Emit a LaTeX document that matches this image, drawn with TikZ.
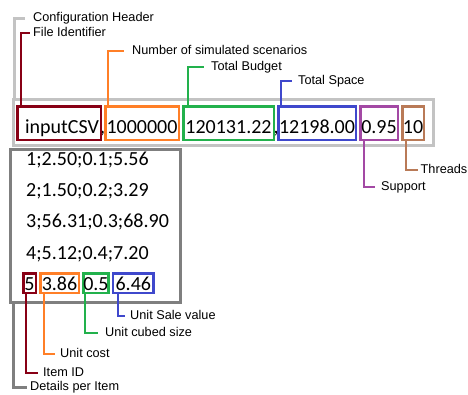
\documentclass[tikz,border=0pt]{standalone}
\usepackage{fontspec}
\setmainfont{Liberation Sans}
\newfontfamily\datafont{Carlito}
\usetikzlibrary{positioning}

\definecolor{idred}{RGB}{136,0,21}
\definecolor{simorange}{RGB}{255,127,39}
\definecolor{budgreen}{RGB}{34,177,76}
\definecolor{spcblue}{RGB}{63,72,204}
\definecolor{suppurple}{RGB}{163,73,164}
\definecolor{thrbrown}{RGB}{185,122,87}
\definecolor{hdrgray}{RGB}{195,195,195}
\definecolor{itemgray}{RGB}{127,127,127}

\tikzset{
    field/.style={draw, line width=2.5pt, inner sep=0pt, minimum height=33.5pt,
        text height=20pt, text depth=0pt, font=\datafont\fontsize{20}{24}\selectfont},
    itemfield/.style={field, minimum height=19.5pt, text height=14pt},
    datarow/.style={inner sep=0pt, anchor=base west, font=\datafont\fontsize{20}{24}\selectfont},
    lbl/.style={inner sep=0pt, anchor=west, text height=.72em, text depth=0pt,
        font=\fontsize{12.7}{15}\selectfont},
    callout/.style={line width=2.5pt},
}

\begin{document}
\begin{tikzpicture}[x=1pt, y=1pt, node distance=2pt]
    \useasboundingbox (0,0) rectangle (468,-394);

    % Define boxes
    \node[draw=hdrgray, line width=3pt, minimum width=420pt, minimum height=46pt] (hdr) at (223.5,-122.5) {};
    \node[draw=itemgray, line width=3pt, minimum width=170pt, minimum height=153pt] (items) at (95,-225.5) {};

    % header line
    \node[datarow] (comma1) at (100,-133) {,};
    \node[datarow] (comma2) at (273.5,-133) {,};
    \node[field, draw=idred, minimum width=83.5pt, text width=80pt, align=right] (fid) at (59,-123) {inputCSV};
    \node[field, draw=simorange, minimum width=73.5pt, right = of fid]	(nsim)	{1000000};
    \node[field, draw=budgreen, minimum width=90.5pt, right = of nsim]	(bud)	{120131.22};
    \node[field, draw=spcblue, minimum width=77.5pt, right = of bud]	(spc)	{12198.00};
    \node[field, draw=suppurple, minimum width=37.5pt, right = of spc]	(sup)	{0.95};
    \node[field, draw=thrbrown, minimum width=21.5pt, right = of sup]	(thr)	{10};

    % item lines
    \node[datarow] (r1) at (26,-165) {1;2.50;0.1;5.56};
    \node[datarow] (r2) at (26,-196) {2;1.50;0.2;3.29};
    \node[datarow] (r3) at (26,-227) {3;56.31;0.3;68.90};
    \node[datarow] (r4) at (26,-259) {4;5.12;0.4;7.20};
    \node[itemfield, draw=idred, minimum width=12.5pt]					(iid)	at (29.5,-283) {5};
    \node[itemfield, draw=simorange, minimum width=38.5pt, right = of iid]	(cost)	{3.86};
    \node[itemfield, draw=budgreen, minimum width=24.5pt, right = of cost]	(cube)	{0.5};
    \node[itemfield, draw=spcblue, minimum width=40.5pt, right = of cube]	(sale)	{6.46};

    % Define labels
    \node[lbl] (lhdr)	at (33,-18)		{Configuration Header};
    \node[lbl] (lfid)	at (33,-33)		{File Identifier};
    \node[lbl] (lnsim)	at (132,-51)	{Number of simulated scenarios};
    \node[lbl] (lbud)	at (211,-67)	{Total Budget};
    \node[lbl] (lspc)	at (298,-81)	{Total Space};
    \node[lbl] (lsup)	at (381,-187)	{Support};
    \node[lbl] (lthr)	at (420.5,-170)	{Threads};
    \node[lbl] (litems)	at (30,-387)	{Details per Item};
    \node[lbl] (liid)	at (43,-373)	{Item ID};
    \node[lbl] (lcost)	at (60,-354)	{Unit cost};
    \node[lbl] (lcube)	at (105,-333)	{Unit cubed size};
    \node[lbl] (lsale)	at (130,-316)	{Unit Sale value};

    % Connect boxes to labels
    \draw[callout, hdrgray, line width=3pt] ([xshift=2pt]hdr.north west) |- ([xshift=-8pt]lhdr.west);
    \draw[callout, idred]		([xshift=5pt]fid.north west)	|- ([xshift=-3pt]lfid.west);
    \draw[callout, simorange]	([xshift=4pt]nsim.north west)	|- ([xshift=-8pt]lnsim.west);
    \draw[callout, budgreen]	([xshift=6pt]bud.north west)	|- ([xshift=-7pt]lbud.west);
    \draw[callout, spcblue]		([xshift=4pt]spc.north west)	|- ([xshift=-6pt]lspc.west);
    \draw[callout, suppurple]	([xshift=5pt]sup.south west)	|- ([xshift=-6pt]lsup.west);
    \draw[callout, thrbrown]	([xshift=5pt]thr.south west)	|- ([xshift=-3pt]lthr.west);
    \draw[callout, itemgray, line width=3pt] ([xshift=4.5pt]items.south west) |- ([xshift=-3pt]litems.west);
    \draw[callout, idred]		([xshift=4pt]iid.south west)	|- ([xshift=-5pt]liid.west);
    \draw[callout, simorange]	([xshift=5pt]cost.south west)	|- ([xshift=-5pt]lcost.west);
    \draw[callout, budgreen]	([xshift=3pt]cube.south west)	|- ([xshift=-7pt]lcube.west);
    \draw[callout, spcblue]		([xshift=6pt]sale.south west)	|- ([xshift=-5pt]lsale.west);
\end{tikzpicture}
\end{document}
